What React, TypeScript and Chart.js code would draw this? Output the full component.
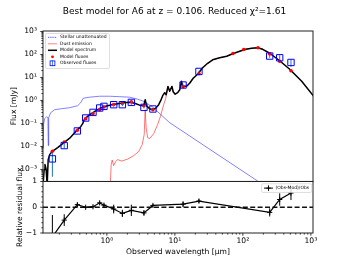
import React, { useEffect, useRef } from 'react';
import { Chart, registerables } from 'chart.js';

Chart.register(...registerables);

const FONT = '"DejaVu Sans", "Liberation Sans", sans-serif';

// ---- axis limits & ticks ----
const xMin = 0.115;
const xMax = 1075;
const fluxMin = 3.2e-4;
const fluxMax = 1050;
const resMin = -1;
const resMax = 1;

const xTickValues = [1, 10, 100, 1000];
const xTickLabels = ['10⁰', '10¹', '10²', '10³'];
const fluxTickValues = [1e-3, 1e-2, 1e-1, 1, 10, 100, 1000];
const fluxTickLabels = ['10⁻³', '10⁻²', '10⁻¹', '10⁰', '10¹', '10²', '10³'];
const resTickValues = [-1, 0, 1];
const resTickLabels = ['−1', '0', '1'];

const titleText = 'Best model for A6 at z = 0.106. Reduced χ²=1.61';
const xTitle = 'Observed wavelength [µm]';
const fluxTitle = 'Flux [mJy]';
const resTitle = 'Relative residual flux';

// ---- model fluxes (all bands) ----
const bandWl = [0.158, 0.236, 0.368, 0.488, 0.625, 0.784, 0.906, 1.26, 1.69, 2.29, 3.51, 4.76, 13.2, 22.6, 71.5, 103, 167, 248, 348, 510];
const modelFlux = [0.00615, 0.0157, 0.0502, 0.162, 0.266, 0.397, 0.52, 0.66, 0.74, 0.88, 0.593, 0.4, 3.96, 14.5, 111, 165, 196, 106, 51, 19.5];

// ---- observed fluxes ----
const obsWl = [0.158, 0.236, 0.368, 0.488, 0.625, 0.784, 0.906, 1.26, 1.69, 2.29, 3.51, 4.76, 13.2, 22.6, 248, 348, 510];
const obsFlux = [0.00288, 0.0109, 0.0472, 0.173, 0.303, 0.471, 0.553, 0.655, 0.655, 0.825, 0.5, 0.426, 4.7, 18.3, 85.3, 72, 45];
const obsErr = [0.0024, 0.0025, 0.003, 0.007, 0.012, 0.024, 0.033, 0.1, 0.09, 0.18, 0.05, 0.02, 0.45, 1.3, 14, 22, 16];

// ---- residuals (Obs-Mod)/Obs ----
const resVal = [-1.15, -0.5, 0.1, 0.0, 0.02, 0.17, 0.08, -0.07, -0.24, -0.12, -0.22, 0.07, 0.12, 0.24, -0.2, 0.3, 0.55];
const resErr = [0.85, 0.23, 0.07, 0.04, 0.04, 0.05, 0.06, 0.17, 0.14, 0.22, 0.1, 0.05, 0.1, 0.07, 0.16, 0.24, 0.27];

// ---- model spectrum ----
const specWl = [0.115, 0.1197, 0.123, 0.128, 0.1324, 0.137, 0.144, 0.152, 0.1596, 0.189, 0.239, 0.284, 0.336, 0.372, 0.412, 0.441, 0.464, 0.505, 0.559, 0.64, 0.732, 0.839, 0.96, 1.18, 1.44, 1.77, 2.16, 2.56, 3.03, 3.48, 3.66, 3.85, 4.26, 4.72, 5.22, 5.78, 6.18, 6.62, 7.08, 7.45, 7.92, 8.39, 9.06, 9.44, 10.1, 11.0, 11.8, 12.5, 13.0, 14.9, 16.5, 18.6, 21.6, 25.6, 30.4, 36.0, 45.6, 57.8, 70.8, 89.8, 110, 135, 165, 196, 248, 348, 488, 733, 1099];
const specFlux = [0.0002, 0.00099, 0.00163, 0.00099, 0.0002, 0.00268, 0.00442, 0.0054, 0.00627, 0.0089, 0.0154, 0.023, 0.0399, 0.0538, 0.0726, 0.098, 0.146, 0.188, 0.241, 0.31, 0.397, 0.485, 0.564, 0.655, 0.724, 0.8, 0.841, 0.761, 0.624, 0.593, 1.08, 0.564, 0.439, 0.397, 0.462, 0.655, 0.977, 1.61, 2.18, 1.78, 4.08, 2.53, 4.08, 2.4, 1.87, 2.18, 2.94, 6.87, 4.17, 4.17, 5.62, 9.27, 13.8, 26.5, 41.5, 58.9, 71.9, 83.6, 107, 138, 168, 186, 196, 168, 113, 53.3, 22.8, 6.87, 1.53];

// ---- stellar unattenuated ----
const stellarWl = [0.115, 0.117, 0.1217, 0.13, 0.136, 0.1375, 0.1394, 0.149, 0.171, 0.216, 0.284, 0.372, 0.412, 0.448, 0.559, 0.784, 1.1, 1.54, 2.16, 2.84, 3.59, 4.72, 8.39, 165, 209];
const stellarFlux = [0.0089, 0.0887, 0.162, 0.197, 0.179, 0.0109, 0.179, 0.294, 0.397, 0.439, 0.485, 0.593, 0.8, 1.25, 1.39, 1.53, 1.53, 1.46, 1.39, 1.14, 0.885, 0.51, 0.108, 0.000312, 0.0002];

// ---- dust emission (near/mid-IR part; beyond 7.9 µm it follows the model spectrum) ----
const dustWlHead = [1.111, 1.157, 1.197, 1.259, 1.346, 1.442, 1.65, 2.02, 2.48, 2.94, 3.31, 3.54, 3.66, 3.78, 3.98, 4.26, 4.88, 5.58, 6.18, 6.84, 7.32];
const dustFluxHead = [0.0001, 0.00163, 0.00255, 0.00147, 0.00219, 0.00268, 0.00231, 0.00282, 0.004, 0.00597, 0.012, 0.0327, 0.397, 0.0657, 0.0242, 0.0219, 0.036, 0.0887, 0.218, 0.655, 1.19];
const dustTailStart = 7.9;

type Pt = { x: number; y: number | null };

function toPts(wl: number[], v: number[]): Pt[] {
  return wl.map((w, i) => ({ x: w, y: v[i] }));
}
function errPts(wl: number[], v: number[], e: number[]): Pt[] {
  const out: Pt[] = [];
  wl.forEach((w, i) => {
    out.push({ x: w, y: v[i] - e[i] });
    out.push({ x: w, y: v[i] + e[i] });
    out.push({ x: w, y: null });
  });
  return out;
}
function labelFor(values: number[], labels: string[], v: number) {
  for (let i = 0; i < values.length; i++) {
    if (Math.abs(values[i] - v) <= Math.abs(values[i]) * 1e-6 + 1e-12) return labels[i];
  }
  return '';
}

const decorPlugin = {
  id: 'decor',
  afterDraw(chart: any) {
    const ctx = chart.ctx as CanvasRenderingContext2D;
    const xs = chart.scales.x;
    const ym = chart.scales.y;
    const yr = chart.scales.yRes;
    const L = chart.chartArea.left;
    const R = chart.chartArea.right;
    ctx.save();

    // title (centred on the figure)
    ctx.fillStyle = '#000';
    ctx.font = '9px ' + FONT;
    ctx.textAlign = 'center';
    ctx.textBaseline = 'middle';
    ctx.fillText(titleText, chart.width / 2, 11.4);

    ctx.strokeStyle = '#000';
    ctx.lineWidth = 0.8;
    const line = (x1: number, y1: number, x2: number, y2: number) => {
      ctx.beginPath();
      ctx.moveTo(x1, y1);
      ctx.lineTo(x2, y2);
      ctx.stroke();
    };
    const MAJ = 2.7;
    const MIN = 1.6;
    // x ticks on bottom of residual panel
    const xb = yr.bottom;
    xTickValues.forEach((v) => {
      const p = xs.getPixelForValue(v);
      line(p, xb, p, xb + MAJ);
    });
    for (let d = -1; d <= 3; d++) {
      for (let m = 2; m <= 9; m++) {
        const v = m * Math.pow(10, d);
        if (v > xMin && v < xMax) {
          const p = xs.getPixelForValue(v);
          line(p, xb, p, xb + MIN);
        }
      }
    }
    // y main ticks
    fluxTickValues.forEach((v) => {
      const p = ym.getPixelForValue(v);
      line(L - MAJ, p, L, p);
    });
    for (let d = -4; d <= 3; d++) {
      for (let m = 2; m <= 9; m++) {
        const v = m * Math.pow(10, d);
        if (v > fluxMin && v < fluxMax) {
          const p = ym.getPixelForValue(v);
          line(L - MIN, p, L, p);
        }
      }
    }
    // residual ticks
    resTickValues.forEach((v) => {
      const p = yr.getPixelForValue(v);
      line(L - MAJ, p, L, p);
    });
    for (let k = -4; k <= 4; k++) {
      if (k === 0) continue;
      const v = k * 0.2;
      if (Math.abs(v) >= 1) continue;
      const p = yr.getPixelForValue(v);
      line(L - MIN, p, L, p);
    }
    // frames
    ctx.strokeStyle = '#222';
    ctx.lineWidth = 1;
    ctx.strokeRect(L, ym.top, R - L, ym.bottom - ym.top);
    ctx.strokeRect(L, yr.top, R - L, yr.bottom - yr.top);

    // ---- main legend ----
    const ds = chart.data.datasets;
    const lbl = (id: string) => ds.find((d: any) => d.id === id).label;
    const bx = L + 2.5;
    const by = ym.top + 2.5;
    const bw = 64;
    const bh = 35;
    ctx.beginPath();
    (ctx as any).roundRect(bx, by, bw, bh, 1.5);
    ctx.fillStyle = 'rgba(255,255,255,0.85)';
    ctx.fill();
    ctx.strokeStyle = 'rgba(200,200,200,1)';
    ctx.lineWidth = 0.6;
    ctx.stroke();
    const hx0 = bx + 2.5;
    const hx1 = bx + 11.5;
    const hc = (hx0 + hx1) / 2;
    const tx = bx + 14.5;
    const rows = [3.8, 10.3, 16.8, 23.3, 29.8].map((r) => by + r);
    // stellar
    ctx.setLineDash([1.3, 0.9]);
    ctx.strokeStyle = 'rgba(0,0,255,0.85)';
    ctx.lineWidth = 0.8;
    line(hx0, rows[0], hx1, rows[0]);
    ctx.setLineDash([]);
    // dust
    ctx.strokeStyle = 'rgba(255,0,0,0.55)';
    ctx.lineWidth = 0.9;
    line(hx0, rows[1], hx1, rows[1]);
    // model spectrum
    ctx.strokeStyle = '#000';
    ctx.lineWidth = 1.5;
    line(hx0, rows[2], hx1, rows[2]);
    // model fluxes
    ctx.fillStyle = '#ff0000';
    ctx.beginPath();
    ctx.arc(hc, rows[3], 1.4, 0, Math.PI * 2);
    ctx.fill();
    // observed fluxes
    ctx.strokeStyle = '#1f77b4';
    ctx.lineWidth = 0.8;
    line(hc, rows[4] - 2.8, hc, rows[4] + 2.8);
    ctx.strokeStyle = '#0000ff';
    ctx.strokeRect(hc - 2.4, rows[4] - 2.4, 4.8, 4.8);
    ctx.fillStyle = '#000';
    ctx.font = '4.5px ' + FONT;
    ctx.textBaseline = 'middle';
    ctx.textAlign = 'left';
    ctx.fillText(lbl('stellar'), tx, rows[0]);
    ctx.fillText(lbl('dust'), tx, rows[1]);
    ctx.fillText(lbl('spec'), tx, rows[2]);
    ctx.fillText(lbl('model'), tx, rows[3]);
    ctx.fillText(lbl('obs'), tx, rows[4]);

    // ---- residual legend ----
    const rbw = 50.3;
    const rbx = R - 1.2 - rbw;
    const rby = yr.top + 2.3;
    const rbh = 8.7;
    ctx.beginPath();
    (ctx as any).roundRect(rbx, rby, rbw, rbh, 1.5);
    ctx.fillStyle = 'rgba(255,255,255,0.85)';
    ctx.fill();
    ctx.strokeStyle = 'rgba(200,200,200,1)';
    ctx.lineWidth = 0.6;
    ctx.stroke();
    const ry = rby + rbh / 2;
    const rx0 = rbx + 2.5;
    const rx1 = rbx + 11.5;
    const rxc = (rx0 + rx1) / 2;
    ctx.strokeStyle = '#000';
    ctx.lineWidth = 1;
    line(rx0, ry, rx1, ry);
    line(rxc, ry - 2.8, rxc, ry + 2.8);
    line(rxc - 2.2, ry, rxc + 2.2, ry);
    ctx.fillStyle = '#000';
    ctx.fillText(lbl('res'), rbx + 14, ry);
    ctx.restore();
  },
};

export default function App() {
  const ref = useRef<HTMLCanvasElement | null>(null);
  useEffect(() => {
    if (!ref.current) return;
    const dustTail = specWl
      .map((w, i) => ({ x: w, y: specFlux[i] }))
      .filter((p) => p.x >= dustTailStart);
    const dustPts: Pt[] = toPts(dustWlHead, dustFluxHead).concat(dustTail);
    const zeroPts: Pt[] = [
      { x: xMin, y: 0 },
      { x: xMax, y: 0 },
    ];
    const tickFont = { family: FONT, size: 7.6 };
    const chart = new Chart(ref.current, {
      type: 'scatter',
      data: {
        datasets: [
          {
            id: 'obs', label: 'Observed fluxes', data: toPts(obsWl, obsFlux), yAxisID: 'y',
            pointStyle: 'rect', pointRadius: 4.5, pointBorderColor: '#0000ff', pointBackgroundColor: 'rgba(0,0,0,0)',
            pointBorderWidth: 1, showLine: false, order: 0,
          },
          {
            id: 'obsErr', label: 'obsErr', data: errPts(obsWl, obsFlux, obsErr), yAxisID: 'y',
            showLine: true, pointRadius: 0, borderColor: '#1f77b4', borderWidth: 1, order: 1,
          },
          {
            id: 'model', label: 'Model fluxes', data: toPts(bandWl, modelFlux), yAxisID: 'y',
            pointStyle: 'circle', pointRadius: 1.8, pointBackgroundColor: '#ff0000', pointBorderWidth: 0,
            showLine: false, order: 2,
          },
          {
            id: 'spec', label: 'Model spectrum', data: toPts(specWl, specFlux), yAxisID: 'y',
            showLine: true, pointRadius: 0, borderColor: '#000', borderWidth: 1.5, borderJoinStyle: 'round', order: 3,
          },
          {
            id: 'dust', label: 'Dust emission', data: dustPts, yAxisID: 'y',
            showLine: true, pointRadius: 0, borderColor: 'rgba(255,0,0,0.6)', borderWidth: 0.9, order: 4,
          },
          {
            id: 'stellar', label: 'Stellar unattenuated', data: toPts(stellarWl, stellarFlux), yAxisID: 'y',
            showLine: true, pointRadius: 0, borderColor: 'rgba(0,0,255,0.55)', borderWidth: 0.9, order: 5,
          },
          {
            id: 'res', label: '(Obs-Mod)/Obs', data: toPts(obsWl, resVal), yAxisID: 'yRes',
            showLine: true, pointStyle: 'cross', pointRadius: 2.6, pointBorderColor: '#000', pointBorderWidth: 1,
            borderColor: '#000', borderWidth: 1.2, order: 6,
          },
          {
            id: 'resErr', label: 'resErr', data: errPts(obsWl, resVal, resErr), yAxisID: 'yRes',
            showLine: true, pointRadius: 0, borderColor: '#000', borderWidth: 1, order: 7,
          },
          {
            id: 'zero', label: 'zero', data: zeroPts, yAxisID: 'yRes',
            showLine: true, pointRadius: 0, borderColor: '#111', borderWidth: 1.4, borderDash: [5, 2.4], order: 8,
          },
        ] as any,
      },
      options: {
        animation: false,
        responsive: false,
        devicePixelRatio: 1,
        events: [],
        layout: { padding: { left: 0, right: 36, top: 31, bottom: 0 } },
        plugins: {
          legend: { display: false },
          tooltip: { enabled: false },
          title: { display: false },
        },
        scales: {
          x: {
            type: 'logarithmic',
            position: 'bottom',
            min: xMin,
            max: xMax,
            afterBuildTicks: (s: any) => {
              s.ticks = xTickValues.map((v) => ({ value: v, major: true }));
            },
            afterFit: (s: any) => {
              s.height = 29;
            },
            ticks: {
              autoSkip: false,
              maxRotation: 0,
              padding: 3.4,
              color: '#000',
              font: tickFont,
              callback: (v: any) => labelFor(xTickValues, xTickLabels, Number(v)),
            },
            grid: { display: false, drawTicks: false },
            border: { display: false },
            title: { display: true, text: xTitle, color: '#000', font: tickFont, padding: { top: 0, bottom: 5.4 } },
          },
          yRes: {
            type: 'linear',
            position: 'left',
            stack: 'panels',
            stackWeight: 1,
            weight: 0,
            min: resMin,
            max: resMax,
            afterBuildTicks: (s: any) => {
              s.ticks = resTickValues.map((v) => ({ value: v }));
            },
            afterFit: (s: any) => {
              s.width = 43;
            },
            ticks: {
              autoSkip: false,
              padding: 6,
              color: '#000',
              font: tickFont,
              callback: (v: any) => labelFor(resTickValues, resTickLabels, Number(v)),
            },
            grid: { display: false, drawTicks: false },
            border: { display: false },
            title: { display: true, text: resTitle, color: '#000', font: tickFont, padding: { top: 15.5, bottom: 0 } },
          },
          y: {
            type: 'logarithmic',
            position: 'left',
            stack: 'panels',
            stackWeight: 2.92,
            weight: 1,
            min: fluxMin,
            max: fluxMax,
            afterBuildTicks: (s: any) => {
              s.ticks = fluxTickValues.map((v) => ({ value: v, major: true }));
            },
            afterFit: (s: any) => {
              s.width = 43;
            },
            ticks: {
              autoSkip: false,
              padding: 6,
              color: '#000',
              font: tickFont,
              callback: (v: any) => labelFor(fluxTickValues, fluxTickLabels, Number(v)),
            },
            grid: { display: false, drawTicks: false },
            border: { display: false },
            title: { display: true, text: fluxTitle, color: '#000', font: tickFont, padding: { top: 9, bottom: 0 } },
          },
        },
      } as any,
      plugins: [decorPlugin],
    });
    return () => chart.destroy();
  }, []);
  return (
    <div style={{ position: 'absolute', left: 0, top: 0, width: 349, height: 262, background: '#fff' }}>
      <canvas ref={ref} width={349} height={262} style={{ display: 'block', width: 349, height: 262 }} />
    </div>
  );
}
